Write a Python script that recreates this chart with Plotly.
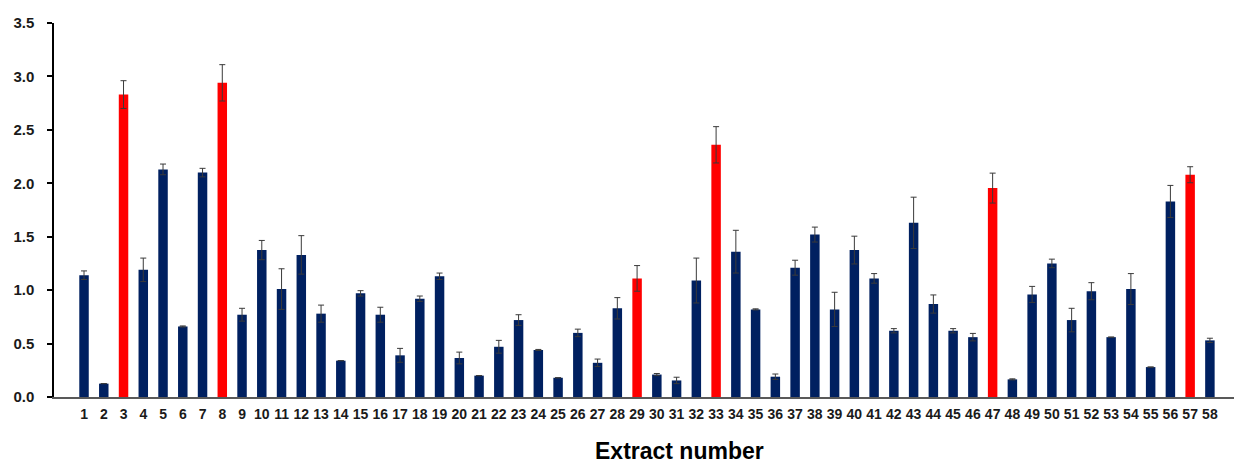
import plotly.graph_objects as go

extracts = list(range(1, 59))
values = [1.14, 0.125, 2.83, 1.19, 2.13, 0.66, 2.10, 2.94, 0.77, 1.375,
          1.01, 1.33, 0.78, 0.34, 0.97, 0.77, 0.39, 0.92, 1.13, 0.365,
          0.20, 0.47, 0.72, 0.44, 0.18, 0.60, 0.32, 0.83, 1.11, 0.21,
          0.155, 1.09, 2.36, 1.36, 0.82, 0.19, 1.21, 1.52, 0.82, 1.375,
          1.11, 0.62, 1.63, 0.87, 0.62, 0.56, 1.955, 0.165, 0.96, 1.25,
          0.72, 0.99, 0.56, 1.01, 0.28, 1.83, 2.08, 0.53]
errors = [0.04, 0.0, 0.13, 0.11, 0.05, 0.005, 0.04, 0.17, 0.06, 0.09,
          0.19, 0.18, 0.08, 0.0, 0.025, 0.07, 0.065, 0.025, 0.03, 0.055,
          0.0, 0.06, 0.05, 0.005, 0.0, 0.035, 0.035, 0.10, 0.12, 0.01,
          0.03, 0.21, 0.17, 0.20, 0.005, 0.025, 0.07, 0.07, 0.16, 0.13,
          0.045, 0.02, 0.24, 0.085, 0.02, 0.035, 0.14, 0.005, 0.075, 0.04,
          0.11, 0.08, 0.0, 0.145, 0.0, 0.15, 0.075, 0.02]
highlighted = [3, 8, 29, 33, 47, 57]

NAVY = "#002060"
RED = "#FF0000"
FONT = "Liberation Sans, Arial, sans-serif"
colors = [RED if e in highlighted else NAVY for e in extracts]

fig = go.Figure()
fig.add_trace(go.Bar(
    x=extracts, y=values, width=0.48,
    marker=dict(color=colors, line=dict(width=0)),
    error_y=dict(type="data", array=errors, visible=True,
                 color="#3a3a3a", thickness=1, width=3),
    showlegend=False,
))

fig.update_layout(
    width=1234, height=465,
    margin=dict(l=54, r=0, t=23, b=68),
    paper_bgcolor="white", plot_bgcolor="white",
    font=dict(family=FONT, color="#262626"),
)
fig.update_xaxes(
    range=[-0.52, 59.22],
    tickmode="array", tickvals=extracts, ticktext=[str(e) for e in extracts],
    tickfont=dict(size=14, family=FONT, weight="bold", color="#1a1a1a"),
    ticks="", showgrid=False, zeroline=False,
    ticklabelstandoff=3,
    showline=True, linecolor="#595959", linewidth=2,
)
fig.update_yaxes(
    range=[0, 3.5], tickmode="array",
    tickvals=[0, 0.5, 1.0, 1.5, 2.0, 2.5, 3.0, 3.5],
    ticktext=["0.0", "0.5", "1.0", "1.5", "2.0", "2.5", "3.0", "3.5"],
    tickfont=dict(size=15, family=FONT, weight="bold", color="#1a1a1a"),
    ticks="outside", ticklen=5, tickcolor="#000000", tickwidth=1.5,
    ticklabelstandoff=10,
    showgrid=False, zeroline=False,
    showline=True, linecolor="#000000", linewidth=1.5,
)
fig.add_annotation(
    text="<b>Extract number</b>", xref="paper", yref="paper",
    x=0.5305, y=0, yshift=-54, xanchor="center", yanchor="middle",
    showarrow=False, font=dict(size=23, family=FONT, color="#000000"),
)

fig.write_html("out.html")
